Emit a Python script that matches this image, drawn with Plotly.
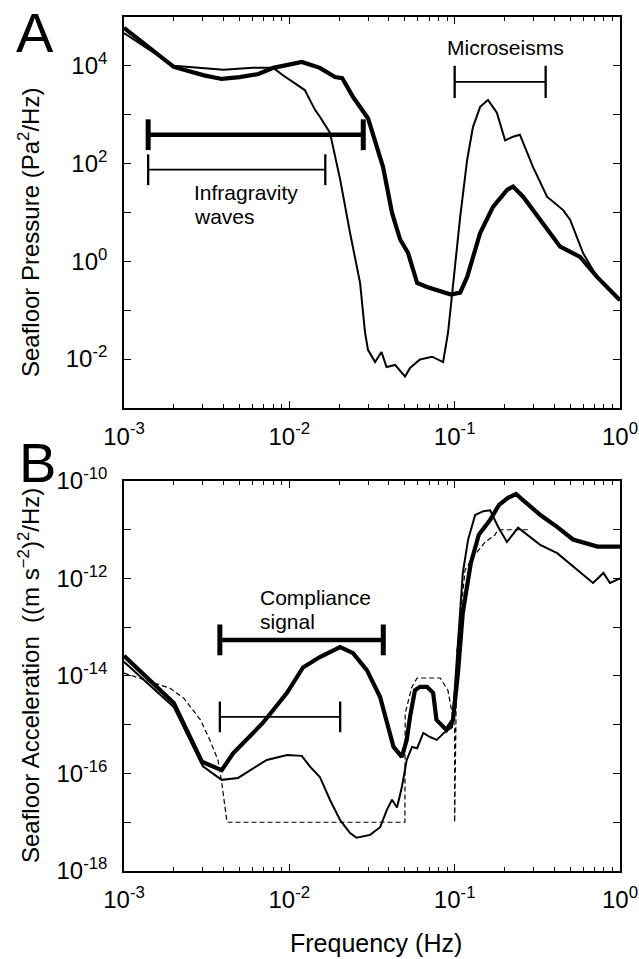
import plotly.graph_objects as go

# ---------------- Panel A: seafloor pressure (Pa^2/Hz) ----------------
pa_thick_f = [0.001, 0.002, 0.00305, 0.0039, 0.005, 0.0065, 0.008, 0.0105, 0.0119, 0.0153,
              0.0189, 0.0209, 0.0243, 0.0299, 0.0369, 0.0418, 0.0468, 0.0522, 0.0593, 0.068,
              0.076, 0.085, 0.095, 0.108, 0.119, 0.1426, 0.1706, 0.2075, 0.2254, 0.2594,
              0.3289, 0.4345, 0.574, 0.726, 1.0]
pa_thick_p = [6.0e4, 9.5e3, 6.4e3, 5.4e3, 5.9e3, 6.8e3, 9.1e3, 1.07e4, 1.2e4, 9.1e3,
              5.9e3, 5.6e3, 2.3e3, 850, 85, 9.8, 2.8, 1.5, 0.36, 0.30,
              0.27, 0.24, 0.21, 0.23, 0.48, 3.8, 13, 29, 34, 21,
              7.1, 2.0, 1.23, 0.48, 0.16]

pa_thin_f = [0.001, 0.002, 0.004, 0.006, 0.008, 0.0091, 0.0124, 0.0143, 0.0153, 0.0176,
             0.0203, 0.0233, 0.0268, 0.0287, 0.0299, 0.033, 0.0361, 0.0387, 0.0436, 0.0501,
             0.0537, 0.0617, 0.073, 0.0851, 0.0912, 0.0977, 0.108, 0.119, 0.129, 0.1426,
             0.159, 0.180, 0.2018, 0.2254, 0.248, 0.298, 0.362, 0.453, 0.499, 0.598,
             0.726, 1.0]
pa_thin_p = [4.7e4, 1.0e4, 8.3e3, 9.1e3, 9.1e3, 6.5e3, 3.2e3, 1.26e3, 910, 430,
             47, 3.8, 0.36, 0.035, 0.0155, 8.7e-3, 0.014, 6.9e-3, 7.6e-3, 4.4e-3,
             6.6e-3, 9.8e-3, 0.0112, 8.7e-3, 0.035, 0.36, 8.1, 120, 560, 1.45e3,
             2.0e3, 1.1e3, 300, 355, 390, 85, 21, 11.2, 7.1, 1.48,
             0.48, 0.16]

ig_wide_band = [0.0014, 0.028]
ig_wide_level = 390
ig_narrow_band = [0.0014, 0.0165]
ig_narrow_level = 75
micro_band = [0.1, 0.355]
micro_level = 4700

# ---------------- Panel B: seafloor acceleration ((m s^-2)^2/Hz) ----------------
ac_thick_f = [0.001, 0.002, 0.00296, 0.0039, 0.00457, 0.00693, 0.00968, 0.0121, 0.0153, 0.0184,
              0.0203, 0.0243, 0.0295, 0.0354, 0.0389, 0.0427, 0.0479, 0.0513, 0.0537, 0.0575,
              0.0617, 0.0681, 0.0741, 0.0776, 0.0891, 0.0977, 0.1047, 0.112, 0.125, 0.14,
              0.164, 0.185, 0.21, 0.235, 0.26, 0.33, 0.42, 0.52, 0.73, 1.0]
ac_thick_a = [2.6e-14, 2.8e-15, 1.74e-16, 1.17e-16, 2.6e-16, 1.1e-15, 4.5e-15, 1.5e-14, 2.45e-14, 3.4e-14,
              3.9e-14, 2.95e-14, 1.3e-14, 3.7e-15, 1.1e-15, 3.5e-16, 2.2e-16, 4.9e-16, 1.45e-15, 5.1e-15,
              6.0e-15, 6.0e-15, 4.5e-15, 1.26e-15, 7.8e-16, 1.26e-15, 1.15e-14, 2.0e-13, 2.0e-12, 7.9e-12,
              1.6e-11, 3.2e-11, 4.5e-11, 5.4e-11, 4.0e-11, 2.0e-11, 1.12e-11, 6.3e-12, 4.5e-12, 4.5e-12]

ac_thin_f = [0.001, 0.002, 0.003, 0.0039, 0.0049, 0.0073, 0.0097, 0.0119, 0.0133, 0.0153,
             0.0176, 0.0203, 0.0233, 0.0255, 0.0308, 0.0354, 0.0389, 0.0418, 0.0448, 0.0479,
             0.0513, 0.0552, 0.0593, 0.0646, 0.071, 0.078, 0.086, 0.0964, 0.1, 0.1047,
             0.112, 0.1205, 0.133, 0.149, 0.164, 0.183, 0.207, 0.242, 0.329, 0.417,
             0.52, 0.687, 0.794, 0.87, 1.0]
ac_thin_a = [1.95e-14, 2.3e-15, 1.4e-16, 7.4e-17, 8.1e-17, 1.9e-16, 2.4e-16, 2.3e-16, 1.4e-16, 8.5e-17,
             2.9e-17, 1.1e-17, 6.0e-18, 4.8e-18, 5.5e-18, 7.9e-18, 1.8e-17, 2.9e-17, 2.0e-17, 5.2e-17,
             1.9e-16, 3.5e-16, 3.3e-16, 6.8e-16, 5.6e-16, 4.9e-16, 6.8e-16, 8.9e-16, 5.1e-15, 5.5e-14,
             1.3e-12, 6.2e-12, 2.0e-11, 2.4e-11, 2.5e-11, 1.15e-11, 5.6e-12, 1.1e-11, 4.9e-12, 3.3e-12,
             1.74e-12, 8.1e-13, 1.3e-12, 8.1e-13, 1.0e-12]

ac_model_f = [0.001, 0.0019, 0.0023, 0.0029, 0.0033, 0.0037, 0.0039, 0.0042, 0.05, 0.0502,
              0.055, 0.0593, 0.0817, 0.091, 0.1, 0.1, 0.103, 0.1156, 0.129, 0.153,
              0.175, 0.183, 0.286]
ac_model_a = [1.15e-14, 5.6e-15, 3.5e-15, 1.26e-15, 4.9e-16, 1.9e-16, 6.5e-17, 1.0e-17, 1.0e-17, 1.7e-15,
              5.9e-15, 9.1e-15, 9.1e-15, 5.1e-15, 8.9e-16, 1.0e-17, 3.0e-14, 1.5e-12, 2.75e-12, 5.6e-12,
              7.8e-12, 1.0e-11, 1.0e-11]

comp_wide_band = [0.0038, 0.037]
comp_wide_level = 5.5e-14
comp_narrow_band = [0.0038, 0.0203]
comp_narrow_level = 1.45e-15

x_major = [1e-3, 1e-2, 1e-1, 1.0]
x_labels = ["10<sup>-3</sup>", "10<sup>-2</sup>", "10<sup>-1</sup>", "10<sup>0</sup>"]
pa_exps = list(range(-3, 6))
ac_exps = list(range(-18, -9))

FONT = "Liberation Sans, Arial, Helvetica, sans-serif"
BLACK = "black"

fig = go.Figure()

def curve(x, y, w, xa, ya, dash=None):
    fig.add_trace(go.Scatter(x=x, y=y, mode="lines", xaxis=xa, yaxis=ya,
                             line=dict(color=BLACK, width=w, dash=dash),
                             showlegend=False, hoverinfo="skip"))

def band(b, level, w, cap, xa, ya):
    fig.add_trace(go.Scatter(x=b, y=[level, level], mode="lines+markers", xaxis=xa, yaxis=ya,
                             line=dict(color=BLACK, width=w),
                             marker=dict(symbol="line-ns", size=cap,
                                         line=dict(color=BLACK, width=w + 0.5)),
                             showlegend=False, hoverinfo="skip"))

curve(pa_thin_f, pa_thin_p, 2.0, "x", "y")
curve(pa_thick_f, pa_thick_p, 4.2, "x", "y")
band(ig_wide_band, ig_wide_level, 4.5, 22, "x", "y")
band(ig_narrow_band, ig_narrow_level, 1.8, 22, "x", "y")
band(micro_band, micro_level, 1.8, 23, "x", "y")

curve(ac_model_f, ac_model_a, 1.2, "x2", "y2", dash="5px,3px")
curve(ac_thin_f, ac_thin_a, 2.0, "x2", "y2")
curve(ac_thick_f, ac_thick_a, 4.2, "x2", "y2")
band(comp_wide_band, comp_wide_level, 4.5, 22, "x2", "y2")
band(comp_narrow_band, comp_narrow_level, 1.8, 22, "x2", "y2")

minor_vals = [m * 10.0 ** k for k in range(-3, 0) for m in range(2, 10)]

xaxis_common = dict(type="log", range=[-3, 0], showline=True, linecolor=BLACK, linewidth=1.6,
                    mirror="allticks", ticks="inside", ticklen=7, tickwidth=1.2, tickcolor=BLACK,
                    tickvals=x_major, ticktext=x_labels, showgrid=False, zeroline=False,
                    automargin=False, ticklabelstandoff=6,
                    tickfont=dict(family=FONT, size=24, color=BLACK),
                    minor=dict(ticks="inside", ticklen=4, tickwidth=1, tickcolor=BLACK,
                               tickvals=minor_vals, showgrid=False))

def yaxis_common(exps, domain):
    even = [e for e in exps if e % 2 == 0]
    odd = [e for e in exps if e % 2 != 0]
    return dict(type="log", range=[exps[0], exps[-1]], domain=domain, showline=True,
                linecolor=BLACK, linewidth=1.6, mirror="allticks", ticks="inside", ticklen=7,
                tickwidth=1.2, tickcolor=BLACK, showgrid=False, zeroline=False,
                automargin=False, ticklabelstandoff=10,
                tickvals=[10.0 ** e for e in even],
                ticktext=["10<sup>%d</sup>" % e for e in even],
                tickfont=dict(family=FONT, size=24, color=BLACK),
                minor=dict(ticks="inside", ticklen=7, tickwidth=1.2, tickcolor=BLACK,
                           tickvals=[10.0 ** e for e in odd], showgrid=False))

fig.update_layout(
    width=639, height=959,
    margin=dict(l=124, r=19, t=17, b=88),
    paper_bgcolor="white", plot_bgcolor="white",
    showlegend=False,
    xaxis=dict(xaxis_common, anchor="y"),
    yaxis=dict(yaxis_common(pa_exps, [0.5422, 1.0]), anchor="x"),
    xaxis2=dict(xaxis_common, anchor="y2"),
    yaxis2=dict(yaxis_common(ac_exps, [0.0, 0.4567]), anchor="x2"),
)

def ann(text, x, y, size, xref="paper", yref="paper", xanchor="center", yanchor="middle", angle=0):
    fig.add_annotation(text=text, x=x, y=y, xref=xref, yref=yref, showarrow=False,
                       xanchor=xanchor, yanchor=yanchor, textangle=angle,
                       font=dict(family=FONT, size=size, color=BLACK))

ann("A", -0.1794, 0.9824, 56)
ann("B", -0.1754, 0.4778, 56)
ann("Seafloor Pressure (Pa<sup>2</sup>/Hz)", -0.1915, 0.747, 24, angle=-90)
ann("Seafloor Acceleration  ((m s<sup>\u22122</sup>)<sup>2</sup>/Hz)", -0.1915, 0.2283, 24, angle=-90)
ann("Frequency (Hz)", 0.508, -0.0843, 25)
ann("Microseisms", -0.695, 4.37, 21, xref="x", yref="y")
ann("Infragravity", -2.589, 1.40, 21, xref="x", yref="y", xanchor="left")
ann("waves", -2.589, 0.91, 21, xref="x", yref="y", xanchor="left")
ann("Compliance", -2.19, -12.40, 21, xref="x2", yref="y2", xanchor="left")
ann("signal", -2.19, -12.89, 21, xref="x2", yref="y2", xanchor="left")

fig.write_html("out.html")
